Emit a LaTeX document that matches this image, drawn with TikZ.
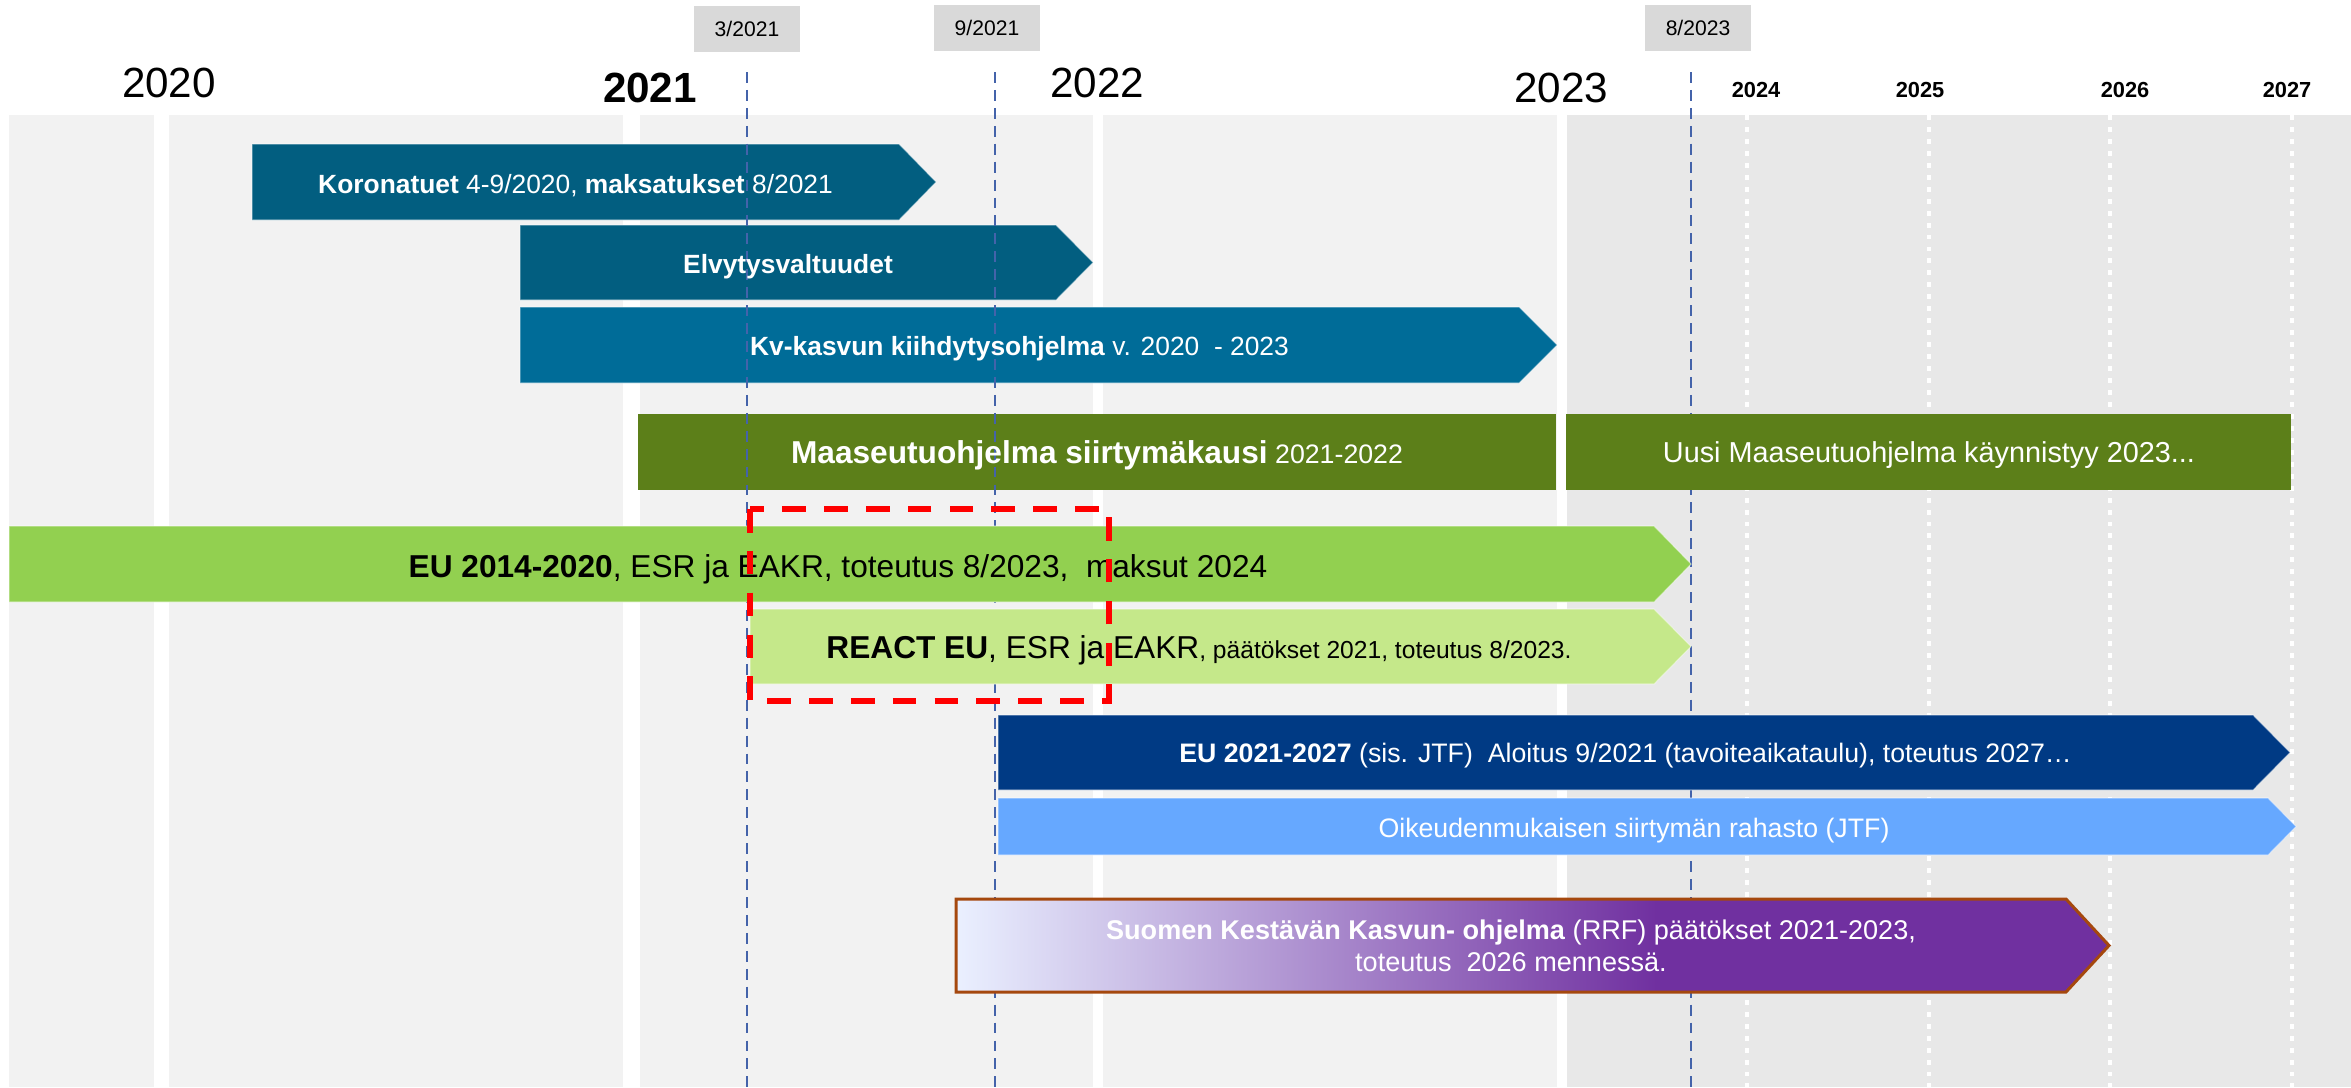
\documentclass[tikz,border=0pt]{standalone}
\usepackage{fontspec}
\setmainfont{Liberation Sans}

\definecolor{panelgray}{HTML}{F2F2F2}
\definecolor{panellate}{HTML}{E8E8E8}
\definecolor{datebox}{HTML}{D9D9D9}
\definecolor{milecol}{HTML}{4463AA}
\definecolor{koronacol}{HTML}{025E80}
\definecolor{kvcol}{HTML}{006C98}
\definecolor{ruralcol}{HTML}{5C7F19}
\definecolor{eu14col}{HTML}{92D050}
\definecolor{reactcol}{HTML}{C5E88A}
\definecolor{eu21col}{HTML}{003A84}
\definecolor{jtfcol}{HTML}{66A8FF}
\definecolor{rrflight}{HTML}{EAF0FF}
\definecolor{rrfpurple}{HTML}{7030A0}
\definecolor{rrfborder}{HTML}{A5480E}

\tikzstyle{panel} = [fill=panelgray]
\tikzstyle{panel_late} = [fill=panellate]
\tikzstyle{year_tick} = [white, line width=1.4pt, dash pattern=on 1.4pt off 2pt]
\tikzstyle{milestone} = [milecol, line width=0.6pt, dash pattern=on 3.1pt off 2pt]
\tikzstyle{phase} = [draw=white, draw opacity=0.45, line width=0.3pt]
\tikzstyle{rrf_border} = [draw=rrfborder, line width=0.85pt, line join=miter]
\tikzstyle{focus_box} = [red, line width=1.55pt, dash pattern=on 6.7pt off 5.2pt]
\tikzstyle{bar_text} = [inner sep=0pt, anchor=base, text=white, font=\fontsize{7.5}{9}\selectfont]
\tikzstyle{bar_text_dark} = [inner sep=0pt, anchor=base, text=black, font=\fontsize{9}{11}\selectfont]
\tikzstyle{big_year} = [inner sep=0pt, anchor=base, font=\fontsize{12}{14}\selectfont]
\tikzstyle{small_year} = [inner sep=0pt, anchor=base, font=\bfseries\fontsize{6.2}{7}\selectfont]
\tikzstyle{date_box} = [fill=datebox, minimum width=1.06cm, minimum height=0.46cm, inner sep=0pt, font=\fontsize{6}{7}\selectfont]

\begin{document}
\begin{tikzpicture}[x=0.01cm, y=-0.01cm]

    \useasboundingbox (0,0) rectangle (2351,1087);

    % Year columns
    \fill [panel] (9,115) rectangle (154,1087);
    \fill [panel] (169,115) rectangle (623,1087);
    \fill [panel] (640,115) rectangle (1093,1087);
    \fill [panel] (1103,115) rectangle (1557,1087);
    \fill [panel_late] (1567,115) rectangle (2351,1087);

    \foreach \x in {1747, 1929, 2110, 2292}
        \draw [year_tick] (\x,115) -- (\x,1087);

    % Upper bars
    \fill [koronacol, phase] (252,144) -- (899,144) -- (936,182) -- (899,220) -- (252,220) -- cycle;
    \fill [koronacol, phase] (520,225) -- (1056,225) -- (1093,262.5) -- (1056,300) -- (520,300) -- cycle;
    \fill [kvcol, phase] (520,307) -- (1519,307) -- (1557,345) -- (1519,383) -- (520,383) -- cycle;
    \fill [ruralcol] (638,414) rectangle (1556,490);

    % Milestones
    \draw [milestone] (747,72) -- (747,1087);
    \draw [milestone] (995,72) -- (995,1087);
    \draw [milestone] (1691,72) -- (1691,1087);

    % Lower bars
    \fill [ruralcol] (1566,414) rectangle (2291,490);
    \fill [eu14col, phase] (9,526) -- (1654,526) -- (1691,564) -- (1654,602) -- (9,602) -- cycle;
    \fill [reactcol, phase] (750,609) -- (1654,609) -- (1691,646.5) -- (1654,684) -- (750,684) -- cycle;
    \fill [eu21col, phase] (998,715) -- (2253,715) -- (2290,752.5) -- (2253,790) -- (998,790) -- cycle;
    \fill [jtfcol, phase] (998,798) -- (2268,798) -- (2296,826.5) -- (2268,855) -- (998,855) -- cycle;
    \fill [left color=rrflight, right color=rrfpurple] (956,899) rectangle (1657,992);
    \fill [rrfpurple] (1655,899) -- (2066,899) -- (2109,945.5) -- (2066,992) -- (1655,992) -- cycle;
    \draw [rrf_border] (956,899) -- (2066,899) -- (2109,945.5) -- (2066,992) -- (956,992) -- cycle;

    % Bar labels
    \node (korona) [bar_text] at (575.5,193) {\textbf{Koronatuet} 4-9/2020, \textbf{maksatukset} 8/2021};
    \node (elvytys) [bar_text] at (788,273) {\textbf{Elvytysvaltuudet}};
    \node (kvkasvu) [bar_text] at (1019.5,355) {\textbf{Kv-kasvun kiihdytysohjelma} v. 2020\ \ - 2023};
    \node (maaseutu) [bar_text, font=\fontsize{7.6}{9}\selectfont] at (1097,463)
        {{\bfseries\fontsize{9}{11}\selectfont Maaseutuohjelma siirtymäkausi} 2021-2022};
    \node (uusi) [bar_text, font=\fontsize{8.2}{10}\selectfont] at (1929,462) {Uusi Maaseutuohjelma käynnistyy 2023...};
    \node (eu14) [bar_text_dark] at (838,577) {\textbf{EU 2014-2020}, ESR ja EAKR, toteutus 8/2023,\ \ maksut 2024};
    \node (react) [bar_text_dark] at (1199,658)
        {\textbf{REACT EU}, ESR ja EAKR{\fontsize{7}{8}\selectfont, päätökset 2021, toteutus 8/2023.}};
    \node (eu21) [bar_text, font=\fontsize{7.6}{9}\selectfont] at (1625.5,762)
        {\textbf{EU 2021-2027} (sis. JTF)\ \ Aloitus 9/2021 (tavoiteaikataulu), toteutus 2027…};
    \node (jtf) [bar_text, font=\fontsize{7.6}{9}\selectfont] at (1634,837) {Oikeudenmukaisen siirtymän rahasto (JTF)};
    \node (rrf) [bar_text, anchor=center, align=center, font=\fontsize{7.7}{9.1}\selectfont] at (1511,946)
        {\textbf{Suomen Kestävän Kasvun- ohjelma} (RRF) päätökset 2021-2023,\\ toteutus\ \ 2026 mennessä.};

    % REACT EU highlight
    \draw [focus_box] (750,509) rectangle (1109,701);

    % Year headings
    \node (y2020) [big_year] at (169,97) {2020};
    \node (y2021) [big_year, font=\bfseries\fontsize{12}{14}\selectfont] at (650,102) {2021};
    \node (y2022) [big_year] at (1097,97) {2022};
    \node (y2023) [big_year] at (1561,102) {2023};
    \node (y2024) [small_year] at (1756,97) {2024};
    \node (y2025) [small_year] at (1920,97) {2025};
    \node (y2026) [small_year] at (2125,97) {2026};
    \node (y2027) [small_year] at (2287,97) {2027};

    % Milestone dates
    \node (d0321) [date_box] at (747,29) {3/2021};
    \node (d0921) [date_box] at (987,28) {9/2021};
    \node (d0823) [date_box] at (1698,28) {8/2023};

\end{tikzpicture}
\end{document}
